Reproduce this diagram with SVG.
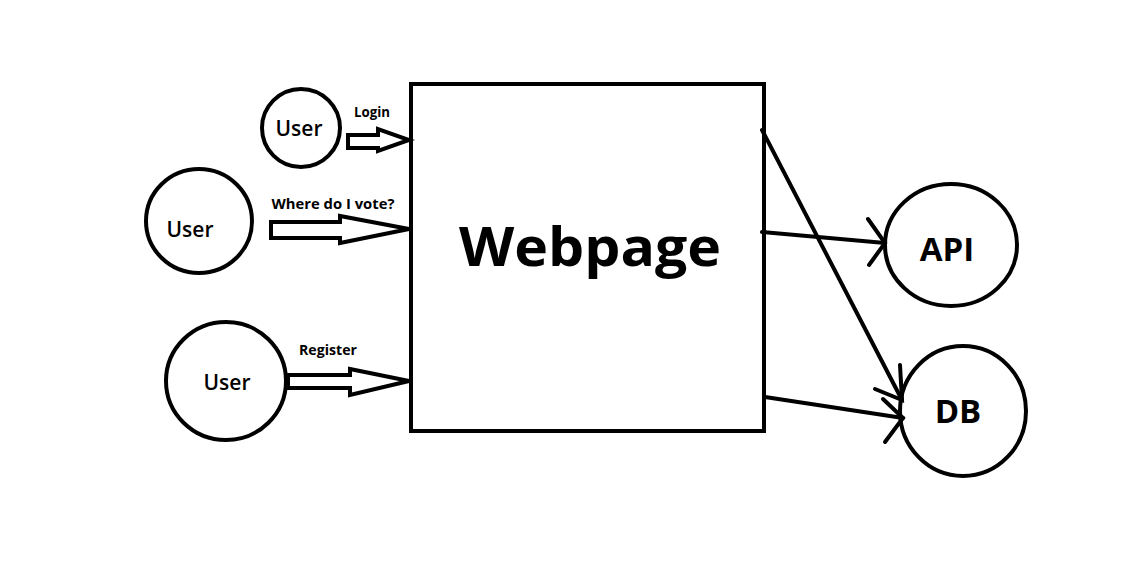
<svg xmlns="http://www.w3.org/2000/svg" width="1142" height="572" viewBox="0 0 1142 572">
<style>
.shape{fill:none;stroke:#000;stroke-width:4}
.hollow{fill:#fff;stroke:#000;stroke-width:4;stroke-linejoin:miter}
.line{fill:none;stroke:#000;stroke-width:4;stroke-linecap:round}
.t{font-family:"Open Sans","Liberation Sans",sans-serif;fill:#000;text-anchor:middle}
.lbl{font-family:"Open Sans","Liberation Sans",sans-serif;font-weight:bold;font-size:14px;fill:#000;text-anchor:middle}
</style>
<rect width="1142" height="572" fill="#fff"/>
<g id="webpage">
<rect class="shape" x="411" y="84" width="353" height="347"/>
<text class="t" x="590" y="266" font-size="54" font-weight="bold" textLength="262" lengthAdjust="spacingAndGlyphs">Webpage</text>
</g>
<g id="user1">
<circle class="shape" cx="301" cy="128" r="39"/>
<text class="t" x="299" y="136" font-size="21" font-weight="600">User</text>
</g>
<g id="user2">
<ellipse class="shape" cx="199" cy="221" rx="53" ry="52"/>
<text class="t" x="190" y="237" font-size="21" font-weight="600">User</text>
</g>
<g id="user3">
<ellipse class="shape" cx="226" cy="381" rx="60" ry="59"/>
<text class="t" x="227" y="390" font-size="21" font-weight="600">User</text>
</g>
<g id="api">
<ellipse class="shape" cx="951" cy="245" rx="66" ry="61"/>
<text class="t" x="947" y="261" font-size="33" font-weight="bold">API</text>
</g>
<g id="db">
<ellipse class="shape" cx="963" cy="411" rx="63" ry="65"/>
<text class="t" x="958" y="423" font-size="33" font-weight="bold">DB</text>
</g>
<g id="connectors">
<polygon class="hollow" points="348,135 378,135 378,129 409,140 378,151 378,148 348,148"/>
<text class="lbl" x="372" y="117" textLength="36" lengthAdjust="spacingAndGlyphs">Login</text>
<polygon class="hollow" points="271,222 340,222 340,216 409,229 340,243 340,238 271,238"/>
<text class="lbl" x="333" y="209" textLength="123" lengthAdjust="spacingAndGlyphs">Where do I vote?</text>
<polygon class="hollow" points="288,375 350,375 350,369 409,381 350,395 350,388 288,388"/>
<text class="lbl" x="328" y="355" textLength="58" lengthAdjust="spacingAndGlyphs">Register</text>
<line class="line" x1="762" y1="130" x2="902" y2="400"/>
<polyline class="line" points="900,365 902,400 875,389"/>
<line class="line" x1="762" y1="232" x2="885" y2="243"/>
<polyline class="line" points="868,219 885,243 869,265"/>
<line class="line" x1="765" y1="397" x2="903" y2="418"/>
<polyline class="line" points="883,399 903,418 885,442"/>
</g>
</svg>
